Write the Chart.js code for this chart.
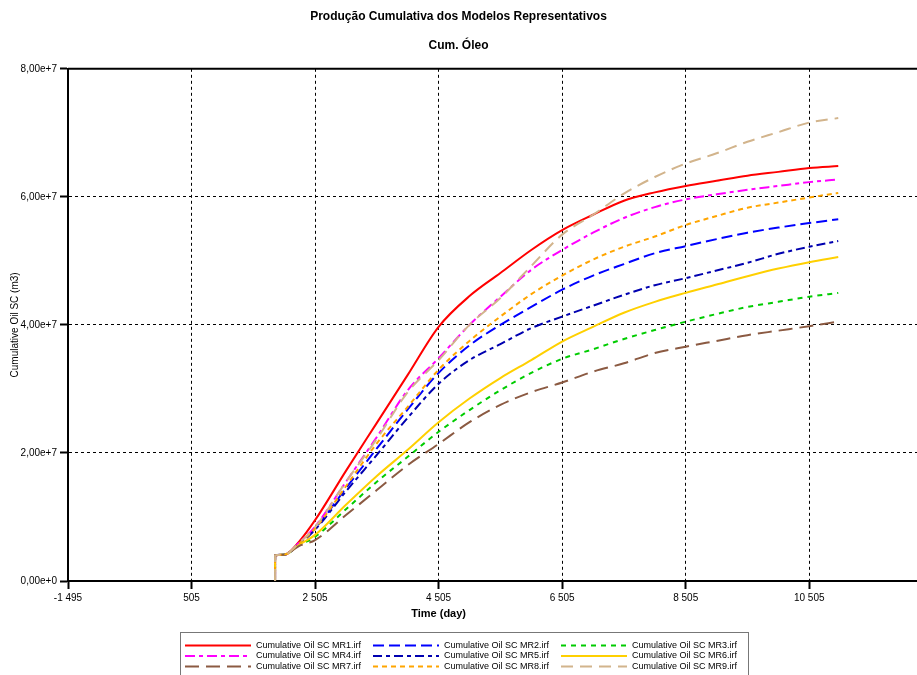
<!DOCTYPE html>
<html>
<head>
<meta charset="utf-8">
<title>Produção Cumulativa dos Modelos Representativos</title>
<script src="https://cdn.jsdelivr.net/npm/chart.js@4.4.1/dist/chart.umd.min.js"></script>
<style>
  body { margin: 0; background: #fff; }
  canvas { display: block; }
</style>
</head>
<body>
<canvas id="oilChart" width="917" height="675"></canvas>
<script>
// Time axis (day) and cumulative oil for each model, in units of 1e7 m3
const days = [1857, 1858, 2000, 2250, 2505, 3005, 3505, 4005, 4505, 5005, 5505,
  6005, 6505, 7005, 7505, 8005, 8505, 9005, 9505, 10005, 10505, 10975];

const mr1 = [0, 0.40, 0.41, 0.62, 0.95, 1.72, 2.47, 3.22, 3.97, 4.45, 4.81, 5.17, 5.48, 5.72, 5.94, 6.07, 6.17, 6.25, 6.33, 6.39, 6.45, 6.48];
const mr2 = [0, 0.40, 0.41, 0.59, 0.82, 1.45, 2.07, 2.68, 3.25, 3.68, 4.00, 4.28, 4.55, 4.77, 4.95, 5.12, 5.23, 5.34, 5.44, 5.52, 5.59, 5.65];
const mr3 = [0, 0.40, 0.41, 0.56, 0.69, 1.12, 1.55, 1.94, 2.33, 2.67, 2.98, 3.25, 3.47, 3.62, 3.78, 3.92, 4.05, 4.17, 4.28, 4.36, 4.44, 4.50];
const mr4 = [0, 0.40, 0.41, 0.60, 0.85, 1.55, 2.25, 2.98, 3.48, 4.00, 4.44, 4.86, 5.17, 5.44, 5.67, 5.84, 5.96, 6.04, 6.11, 6.17, 6.23, 6.27];
const mr5 = [0, 0.40, 0.41, 0.58, 0.80, 1.40, 1.97, 2.55, 3.08, 3.45, 3.70, 3.95, 4.13, 4.30, 4.47, 4.62, 4.73, 4.85, 4.97, 5.11, 5.22, 5.31];
const mr6 = [0, 0.40, 0.41, 0.57, 0.72, 1.19, 1.64, 2.05, 2.48, 2.85, 3.17, 3.45, 3.74, 3.97, 4.19, 4.36, 4.50, 4.63, 4.76, 4.88, 4.98, 5.06];
const mr7 = [0, 0.40, 0.41, 0.55, 0.64, 1.03, 1.42, 1.81, 2.14, 2.48, 2.75, 2.95, 3.10, 3.27, 3.40, 3.56, 3.66, 3.75, 3.84, 3.91, 3.98, 4.05];
const mr8 = [0, 0.40, 0.41, 0.59, 0.82, 1.48, 2.15, 2.72, 3.30, 3.75, 4.13, 4.48, 4.77, 5.02, 5.22, 5.38, 5.56, 5.70, 5.83, 5.91, 5.99, 6.06];
const mr9 = [0, 0.40, 0.41, 0.60, 0.84, 1.55, 2.22, 2.95, 3.45, 4.00, 4.42, 4.92, 5.41, 5.72, 6.05, 6.31, 6.52, 6.68, 6.86, 7.01, 7.16, 7.23];

const seriesNames = ['Cumulative Oil SC MR1.irf', 'Cumulative Oil SC MR2.irf', 'Cumulative Oil SC MR3.irf',
  'Cumulative Oil SC MR4.irf', 'Cumulative Oil SC MR5.irf', 'Cumulative Oil SC MR6.irf',
  'Cumulative Oil SC MR7.irf', 'Cumulative Oil SC MR8.irf', 'Cumulative Oil SC MR9.irf'];
const seriesValues = [mr1, mr2, mr3, mr4, mr5, mr6, mr7, mr8, mr9];
const seriesColors = ['#ff0000', '#0000ff', '#00cc00', '#ff00ff', '#0000b0', '#ffd000', '#8b5a42', '#ffa500', '#d2b48c'];
const seriesDash = [[], [11, 5], [5, 5], [10, 4, 4, 4], [9, 4, 4, 4], [], [14, 7], [5, 4], [12, 7]];

const xTicks = [-1495, 505, 2505, 4505, 6505, 8505, 10505];
const UNIT = 1e7;
const FONT = '"Liberation Sans", Arial, sans-serif';

// Format numbers like "10 505"
function fmtDay(v) {
  const s = Math.abs(v).toString().replace(/\B(?=(\d{3})+(?!\d))/g, ' ');
  return (v < 0 ? '-' : '') + s;
}

// Format numbers like "6,00e+7"
function fmtSci(v) {
  if (v === 0) return '0,00e+0';
  const e = Math.floor(Math.log10(Math.abs(v)));
  const m = v / Math.pow(10, e);
  return m.toFixed(2).replace('.', ',') + 'e+' + e;
}

// Draws the top frame line, the x axis title and the boxed legend
const decorations = {
  id: 'decorations',
  afterDraw(chart) {
    const { ctx, chartArea: area, scales: { x } } = chart;
    ctx.save();

    // top frame line
    ctx.strokeStyle = '#000';
    ctx.lineWidth = 2;
    ctx.beginPath();
    ctx.moveTo(area.left, area.top);
    ctx.lineTo(area.right, area.top);
    ctx.stroke();

    // x axis title
    ctx.fillStyle = '#000';
    ctx.font = 'bold 11px ' + FONT;
    ctx.textAlign = 'center';
    ctx.textBaseline = 'middle';
    ctx.fillText('Time (day)', x.getPixelForValue(4505), area.bottom + 33);

    // legend box
    const boxLeft = 180, boxTop = 632, boxRight = 748;
    ctx.strokeStyle = '#777';
    ctx.lineWidth = 1;
    ctx.strokeRect(boxLeft + 0.5, boxTop + 0.5, boxRight - boxLeft, 60);

    ctx.font = '9px ' + FONT;
    ctx.textAlign = 'left';
    chart.data.datasets.forEach((ds, i) => {
      const col = i % 3;
      const row = Math.floor(i / 3);
      const x0 = 185 + col * 188;
      const y0 = 645.5 + row * 10.5;
      ctx.strokeStyle = ds.borderColor;
      ctx.lineWidth = 2;
      ctx.setLineDash(ds.borderDash);
      ctx.beginPath();
      ctx.moveTo(x0, y0);
      ctx.lineTo(x0 + 66, y0);
      ctx.stroke();
      ctx.setLineDash([]);
      ctx.fillStyle = '#000';
      ctx.fillText(ds.label, x0 + 71, y0);
    });
    ctx.restore();
  }
};

const datasets = seriesValues.map((vals, i) => ({
  label: seriesNames[i],
  data: days.map((d, k) => ({ x: d, y: vals[k] * UNIT })),
  borderColor: seriesColors[i],
  borderDash: seriesDash[i],
  borderWidth: 2,
  pointRadius: 0,
  fill: false,
  cubicInterpolationMode: 'monotone',
  order: seriesValues.length - i
}));

new Chart(document.getElementById('oilChart'), {
  type: 'line',
  data: { datasets: datasets },
  options: {
    responsive: false,
    animation: false,
    devicePixelRatio: 1,
    layout: { padding: { left: 0, right: 0, top: 0, bottom: 44 } },
    plugins: {
      legend: { display: false },
      tooltip: { enabled: false },
      title: {
        display: true,
        text: 'Produção Cumulativa dos Modelos Representativos',
        color: '#000',
        font: { family: FONT, size: 12, weight: 'bold' },
        padding: { top: 9, bottom: 15 }
      },
      subtitle: {
        display: true,
        text: 'Cum. Óleo',
        color: '#000',
        font: { family: FONT, size: 12, weight: 'bold' },
        padding: { top: 0, bottom: 16 }
      }
    },
    scales: {
      x: {
        type: 'linear',
        min: -1495,
        max: 12250,
        afterBuildTicks: scale => { scale.ticks = xTicks.map(v => ({ value: v })); },
        afterFit: scale => { scale.height = 50; },
        ticks: {
          color: '#000',
          font: { family: FONT, size: 10 },
          padding: 3,
          maxRotation: 0,
          autoSkip: false,
          callback: v => fmtDay(v)
        },
        grid: { color: '#000', lineWidth: 1, tickLength: 8, tickWidth: 2, tickColor: '#000' },
        border: { display: true, color: '#000', width: 2, dash: [3, 3] }
      },
      y: {
        min: 0,
        max: 8e7,
        afterFit: scale => { scale.width = 68; },
        ticks: {
          stepSize: 2e7,
          color: '#000',
          font: { family: FONT, size: 10 },
          padding: 3,
          callback: v => fmtSci(v)
        },
        grid: { color: '#000', lineWidth: 1, tickLength: 8, tickWidth: 2, tickColor: '#000' },
        border: { display: true, color: '#000', width: 2, dash: [3, 3] },
        title: {
          display: true,
          text: 'Cumulative Oil SC (m3)',
          color: '#000',
          font: { family: FONT, size: 10 },
          padding: { top: 9, bottom: 0 }
        }
      }
    }
  },
  plugins: [decorations]
});
</script>
</body>
</html>
